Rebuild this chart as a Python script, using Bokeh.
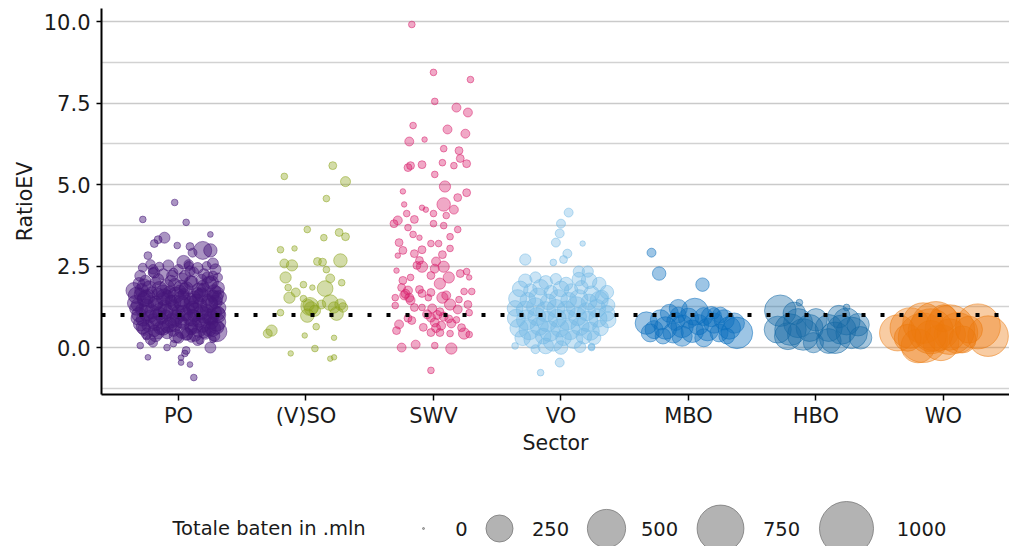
import numpy as np
from bokeh.plotting import figure
from bokeh.models import Span, FixedTicker, PrintfTickFormatter, Range1d
from bokeh.layouts import column
from bokeh.core.properties import value
from bokeh.embed import file_html
from bokeh.resources import INLINE

FONT = "DejaVu Sans"
FS = "19.5px"
FS_TICK = "21px"
FS_AXIS = "20.5px"

sectors = ["PO", "(V)SO", "SWV", "VO", "MBO", "HBO", "WO"]
colors = ["#46167A", "#8BA31A", "#D81B6A", "#74B9E6", "#0A6EBD", "#156AA6", "#EC7A0C"]
fill_alphas = [0.46, 0.38, 0.38, 0.38, 0.40, 0.38, 0.38]

y_ticks = [0.0, 2.5, 5.0, 7.5, 10.0]
y_minor = [-1.25, 1.25, 3.75, 6.25, 8.75]
reference_ratio = 1.0

legend_values = [0, 250, 500, 750, 1000]
legend_title = "Totale baten in .mln"

# ---------------- PO ----------------
po_jitter = [
    -0.03, -0.28, 0.06, 0.25, -0.11, -0.16, -0.19, -0.01, 0.19, 0.25,
    0.09, 0.11, -0.24, 0.27, 0.04, -0.35,
    -0.24, 0.02, 0.02, 0.09, 0.12, 0.05, -0.09, -0.30, 0.25, 0.27,
    0.17, -0.04, 0.06, -0.20, 0.10, -0.25,
    -0.28, -0.22, -0.15, -0.08, 0.00, 0.08, 0.15, 0.22, 0.29, -0.30,
    -0.20, -0.12, -0.04, 0.05, 0.12, 0.20, 0.27, -0.26, -0.16, -0.06,
    0.03, 0.10, 0.18, 0.26, 0.31,
    -0.31, -0.23, -0.18, -0.09, -0.03, 0.05, 0.10, 0.19, 0.24, 0.31,
    -0.29, -0.21, -0.15, -0.07, 0.01, 0.06, 0.15, 0.20, 0.28, -0.33,
    -0.30, -0.24, -0.16, -0.08, -0.02, 0.04, 0.12, 0.18, 0.27, 0.32,
    -0.27, -0.22, -0.12, -0.06, 0.02, 0.09, 0.14, 0.23, 0.29, -0.34,
    -0.32, -0.25, -0.17, -0.11, -0.04, 0.03, 0.11, 0.17, 0.26, 0.32,
    -0.29, -0.21, -0.14, -0.06, 0.00, 0.08, 0.13, 0.22, 0.28, -0.33,
    -0.31, -0.22, -0.15, -0.10, -0.01, 0.06, 0.12, 0.20, 0.25, 0.31,
    -0.28, -0.20, -0.13, -0.05, 0.02, 0.09, 0.16, 0.21, 0.30, -0.32,
    -0.30, -0.24, -0.18, -0.09, -0.03, 0.04, 0.10, 0.19, 0.26, 0.30,
    -0.27, -0.19, -0.12, -0.04, 0.03, 0.10, 0.16, 0.24, 0.30,
    -0.25, -0.18, -0.09, -0.02, 0.07, 0.13, 0.21, 0.28,
    -0.27, -0.19, -0.12, -0.05, 0.02, 0.09, 0.16, 0.23, 0.30, -0.20,
    -0.26, -0.18, -0.11, -0.04, 0.03, 0.10, 0.17, 0.24, 0.29, 0.08,
    -0.25, -0.17, -0.10, -0.03, 0.04, 0.11, 0.18, 0.25, 0.31, -0.14,
    -0.28, -0.16, -0.07, 0.06, 0.13, 0.20, 0.27, 0.00, -0.22, 0.15,
]
po_ratio = [
    4.45, 3.93, 3.84, 3.47, 3.37, 3.31, 3.19, 3.13, 2.98, 2.98,
    3.10, 2.91, 2.82, 2.58, 2.62, 1.75,
    -0.30, -0.31, -0.46, -0.52, -0.92, -0.18, 0.00, 0.06, 0.00, 0.25,
    0.22, 0.12, -0.09, 0.15, 0.30, 0.35,
    2.45, 2.55, 2.48, 2.52, 2.40, 2.50, 2.44, 2.50, 2.40, 2.20,
    2.30, 2.25, 2.30, 2.20, 2.32, 2.25, 2.20, 2.05, 2.10, 2.05,
    2.12, 2.02, 2.08, 2.00, 2.15,
    1.97, 1.84, 2.00, 1.86, 1.93, 1.81, 1.99, 1.88, 1.95, 1.83,
    1.76, 1.69, 1.79, 1.70, 1.74, 1.80, 1.67, 1.77, 1.72, 1.60,
    1.63, 1.56, 1.65, 1.55, 1.61, 1.64, 1.54, 1.62, 1.58, 1.53,
    1.47, 1.41, 1.49, 1.44, 1.39, 1.48, 1.42, 1.46, 1.40, 1.36,
    1.31, 1.27, 1.34, 1.25, 1.30, 1.33, 1.24, 1.29, 1.35, 1.22,
    1.16, 1.10, 1.19, 1.13, 1.09, 1.18, 1.12, 1.15, 1.08, 1.20,
    1.01, 0.96, 1.04, 0.98, 0.94, 1.03, 0.97, 1.00, 0.93, 1.05,
    0.86, 0.81, 0.89, 0.83, 0.79, 0.88, 0.82, 0.85, 0.78, 0.90,
    0.72, 0.67, 0.74, 0.65, 0.70, 0.73, 0.66, 0.69, 0.75, 0.63,
    0.57, 0.51, 0.59, 0.53, 0.50, 0.58, 0.52, 0.56, 0.49,
    0.43, 0.37, 0.45, 0.35, 0.41, 0.39, 0.44, 0.36,
    1.90, 2.30, 1.70, 2.20, 1.85, 2.35, 1.75, 2.15, 1.65, 2.40,
    1.52, 1.35, 1.55, 1.38, 1.50, 1.36, 1.56, 1.33, 1.52, 2.55,
    1.05, 0.92, 1.10, 0.90, 1.06, 0.91, 1.08, 0.94, 1.00, 0.60,
    0.62, 0.45, 0.70, 0.42, 0.65, 0.48, 0.58, 0.30, 0.25, 0.22,
]
po_baten = [
    14, 14, 14, 10, 40, 20, 20, 14, 110, 60,
    20, 26, 20, 40, 61, 85,
    10, 10, 10, 10, 14, 14, 14, 14, 40, 14,
    20, 14, 20, 26, 26, 20,
    26, 30, 26, 40, 30, 26, 40, 26, 40, 40,
    30, 40, 26, 40, 30, 40, 30, 40, 40, 40,
    40, 40, 40, 61, 26,
    45, 60, 38, 70, 52, 40, 65, 48, 75, 55,
    60, 42, 80, 50, 45, 68, 40, 58, 62, 90,
    50, 72, 44, 60, 85, 40, 55, 66, 48, 70,
    64, 48, 58, 42, 75, 52, 68, 45, 60, 80,
    55, 70, 46, 62, 40, 78, 50, 64, 52, 58,
    48, 66, 54, 72, 60, 44, 85, 50, 70, 62,
    70, 52, 60, 45, 66, 58, 48, 90, 55, 64,
    58, 75, 42, 68, 50, 62, 56, 46, 110, 60,
    62, 48, 70, 55, 64, 42, 60, 72, 50, 68,
    55, 44, 62, 50, 70, 48, 58, 66, 140,
    40, 52, 46, 60, 44, 56, 50, 42,
    60, 40, 70, 40, 65, 35, 75, 45, 70, 30,
    80, 70, 90, 75, 85, 70, 80, 95, 70, 30,
    80, 90, 75, 85, 80, 95, 70, 90, 80, 60,
    60, 50, 70, 55, 65, 50, 80, 40, 35, 35,
]

# ---------------- (V)SO ----------------
vso_jitter = [
    0.21, -0.17, 0.31, 0.16, 0.01, 0.26, 0.31, 0.14, -0.20, -0.09,
    -0.17, -0.11, 0.09, 0.13, 0.27, 0.16, -0.16, 0.19, 0.28, -0.14,
    -0.02, 0.05, -0.08, 0.15, -0.13, -0.02, 0.19, 0.03, 0.27, 0.12,
    0.22, 0.29, -0.20, 0.07, 0.24, 0.01, -0.27, -0.30, 0.08, -0.01,
    0.22, -0.12, 0.07, 0.19, 0.22, 0.04, 0.02,
]
vso_ratio = [
    5.58, 5.25, 5.09, 4.57, 3.62, 3.53, 3.40, 3.37, 3.00, 3.04,
    2.58, 2.52, 2.64, 2.62, 2.67, 2.39, 2.15, 2.12, 1.99, 1.84,
    1.93, 1.84, 1.69, 1.81, 1.53, 1.50, 1.38, 1.26, 1.32, 1.32,
    1.23, 1.23, 1.07, 1.13, 1.04, 0.98, 0.52, 0.43, 0.64, 0.37,
    0.30, -0.18, -0.03, -0.34, -0.30, 1.20, 1.30,
]
vso_baten = [
    20, 14, 33, 14, 14, 20, 20, 14, 14, 9,
    26, 42, 20, 20, 61, 14, 42, 26, 14, 14,
    14, 9, 26, 83, 42, 14, 83, 110, 42, 26,
    42, 30, 14, 42, 61, 61, 42, 26, 14, 9,
    9, 9, 14, 9, 9, 61, 42,
]

# ---------------- SWV ----------------
swv_jitter = [
    -0.17, 0.00, 0.29, 0.01, 0.18, 0.27, -0.16, 0.11, -0.07, -0.19,
    0.25, 0.08, 0.20, 0.21, 0.07, 0.16, 0.26, -0.09, -0.18, -0.20,
    0.01, 0.09, -0.24, 0.26, 0.19, 0.08, 0.16, -0.09, -0.06, -0.23,
    -0.21, 0.00, 0.10, -0.28, -0.15, -0.31, 0.00, 0.08, -0.20, 0.19,
    -0.16, -0.11, 0.13, -0.02, 0.04, -0.27, -0.24, 0.13, -0.09, -0.15,
    -0.28, 0.07, -0.11, 0.02, -0.13, -0.09, 0.08, 0.01, -0.29, 0.21,
    0.26, 0.28, -0.02, 0.12, -0.18, -0.24, 0.05, -0.25, -0.11, -0.20,
    -0.02, -0.23, -0.19, -0.09, 0.24, 0.30, 0.07, -0.04, -0.30, 0.13,
    0.20, 0.27, -0.30, -0.15, -0.01, -0.09, 0.19, 0.28, 0.05, -0.17,
    -0.02, 0.01, 0.06, 0.14, -0.27, -0.29, 0.22, -0.02, 0.05, 0.13,
    0.24, 0.28, -0.25, -0.14, 0.01, 0.14, -0.02, -0.22, -0.18, 0.03,
    0.08, 0.12, -0.05, 0.02, -0.20, 0.10, -0.08, 0.18,
]
swv_ratio = [
    9.91, 8.44, 8.22, 7.55, 7.36, 7.21, 6.81, 6.69, 6.38, 6.32,
    6.56, 6.10, 6.04, 5.80, 5.67, 5.58, 5.64, 5.61, 5.58, 5.52,
    5.31, 4.94, 4.79, 4.75, 4.60, 4.39, 4.23, 4.29, 4.23, 4.39,
    4.11, 4.11, 4.05, 3.90, 3.93, 3.80, 3.80, 3.74, 3.68, 3.62,
    3.47, 3.37, 3.40, 3.19, 3.19, 3.22, 2.98, 3.04, 3.00, 2.88,
    2.82, 2.85, 2.67, 2.64, 2.52, 2.48, 2.48, 2.42, 2.36, 2.27,
    2.33, 2.15, 2.21, 2.15, 2.15, 2.06, 1.96, 1.84, 1.78, 1.75,
    1.69, 1.60, 1.53, 1.66, 1.72, 1.72, 1.53, 1.53, 1.53, 1.32,
    1.47, 1.32, 1.29, 1.23, 1.20, 1.23, 1.17, 1.07, 1.10, 0.83,
    0.92, 0.77, 0.67, 0.74, 0.71, 0.52, 0.61, 0.46, 0.46, 0.43,
    0.43, 0.40, 0.00, 0.09, 0.06, -0.03, -0.70, 1.65, 1.45, 1.00,
    0.95, 0.88, 1.02, 0.60, 0.90, 1.60, 0.62, 0.85,
]
swv_baten = [
    14, 14, 14, 14, 26, 26, 14, 26, 9, 26,
    26, 14, 20, 20, 14, 14, 20, 20, 20, 20,
    14, 42, 9, 20, 20, 61, 26, 9, 9, 9,
    14, 14, 14, 26, 20, 20, 14, 14, 14, 14,
    14, 9, 14, 14, 14, 20, 20, 14, 20, 20,
    9, 20, 20, 26, 20, 42, 42, 26, 9, 20,
    14, 9, 20, 42, 14, 20, 42, 20, 20, 26,
    20, 26, 26, 20, 14, 14, 42, 14, 14, 42,
    14, 20, 14, 20, 26, 14, 26, 14, 20, 20,
    26, 26, 26, 26, 26, 20, 20, 20, 20, 14,
    42, 14, 26, 26, 14, 42, 14, 26, 26, 26,
    26, 20, 26, 26, 20, 26, 20, 14,
]

# ---------------- VO ----------------
vo_jitter = [
    -0.28, -0.20, -0.12, -0.04, 0.04, 0.14, 0.22, 0.30, 0.36,
    -0.32, -0.24, -0.16, -0.08, 0.00, 0.08, 0.16, 0.24, 0.32,
    -0.34, -0.26, -0.18, -0.10, -0.02, 0.06, 0.14, 0.22, 0.30, 0.37,
    -0.36, -0.28, -0.20, -0.12, -0.04, 0.04, 0.12, 0.20, 0.28, 0.36,
    -0.35, -0.27, -0.19, -0.11, -0.03, 0.05, 0.13, 0.21, 0.29, 0.37,
    -0.33, -0.25, -0.17, -0.09, -0.01, 0.07, 0.15, 0.23, 0.31,
    -0.30, -0.22, -0.14, -0.06, 0.02, 0.10, 0.18, 0.26,
    -0.12, 0.00, -0.20, 0.15, -0.36, 0.24,
    0.06, 0.00, -0.01, -0.04, 0.05, 0.02, 0.17, -0.28, -0.06, 0.14,
    0.21, -0.16, -0.01, 0.24,
]
vo_ratio = [
    2.05, 2.15, 2.00, 2.10, 1.95, 2.10, 2.05, 1.95, 1.70,
    1.80, 1.75, 1.85, 1.70, 1.80, 1.75, 1.85, 1.65, 1.55,
    1.50, 1.45, 1.55, 1.40, 1.50, 1.45, 1.50, 1.40, 1.45, 1.30,
    1.20, 1.15, 1.25, 1.10, 1.20, 1.15, 1.25, 1.10, 1.20, 1.05,
    0.90, 0.85, 0.95, 0.80, 0.90, 0.85, 0.95, 0.80, 0.90, 0.85,
    0.60, 0.55, 0.65, 0.50, 0.60, 0.55, 0.65, 0.50, 0.60,
    0.30, 0.25, 0.35, 0.20, 0.30, 0.25, 0.35, 0.30,
    0.05, 0.00, -0.05, 0.02, 0.05, 0.03,
    4.14, 3.80, 3.50, 3.22, 2.88, 2.70, 3.19, 2.70, 2.61, 2.33,
    2.33, -0.77, -0.46, 0.00,
]
vo_baten = [
    61, 42, 61, 42, 61, 61, 83, 61, 61,
    83, 61, 83, 61, 83, 61, 61, 83, 61,
    110, 83, 110, 83, 110, 83, 110, 83, 110, 61,
    83, 110, 110, 139, 110, 110, 139, 110, 110, 83,
    110, 139, 110, 139, 110, 139, 110, 139, 110, 83,
    110, 139, 110, 139, 110, 139, 110, 110, 83,
    83, 110, 83, 139, 83, 110, 83, 61,
    83, 61, 26, 42, 14, 14,
    26, 26, 26, 26, 26, 20, 9, 42, 14, 42,
    42, 14, 26, 14,
]

# ---------------- MBO ----------------
mbo_jitter = [
    -0.33, -0.27, -0.22, -0.18, -0.12, -0.10, -0.05, 0.00, 0.03, 0.08,
    0.12, 0.15, 0.20, 0.24, 0.28, 0.32, 0.36, 0.38, -0.15, 0.05,
    0.25, -0.30, -0.05, 0.12, -0.20, 0.30, 0.18, -0.08, -0.08, -0.29,
    -0.23, 0.11, 0.20,
]
mbo_ratio = [
    0.75, 0.55, 0.85, 0.60, 0.45, 0.80, 0.65, 0.90, 0.50, 0.70,
    0.95, 0.55, 0.75, 0.45, 0.85, 0.60, 0.75, 0.45, 1.05, 1.10,
    1.00, 0.45, 0.35, 0.30, 0.35, 0.35, 0.95, 1.00, 1.20, 2.91,
    2.27, 1.93, 1.05,
]
mbo_baten = [
    172, 110, 139, 172, 139, 110, 172, 139, 172, 139,
    110, 172, 139, 110, 139, 172, 139, 339, 110, 249,
    83, 110, 139, 110, 83, 83, 139, 83, 110, 26,
    61, 61, 42,
]

# ---------------- HBO ----------------
hbo_jitter = [
    -0.28, -0.20, -0.14, -0.22, -0.10, -0.05, 0.00, -0.30, -0.17, 0.10,
    0.15, 0.20, 0.24, 0.28, 0.33, 0.18, 0.10, -0.02, 0.35, -0.13,
    0.24,
]
hbo_ratio = [
    1.13, 0.55, 0.75, 0.35, 0.40, 0.60, 0.85, 0.55, 1.05, 0.60,
    0.30, 0.55, 0.80, 0.45, 0.70, 0.95, 0.20, 0.15, 0.30, 1.38,
    1.23,
]
hbo_baten = [
    339, 339, 290, 249, 339, 249, 172, 249, 172, 249,
    339, 290, 249, 339, 172, 172, 210, 139, 172, 14,
    14,
]

# ---------------- WO ----------------
wo_jitter = [
    -0.36, -0.26, -0.16, -0.16, -0.06, -0.02, -0.20, 0.05, 0.11, 0.20,
    0.27, 0.35, 0.00, -0.10, 0.15, -0.28, 0.05, -0.10,
]
wo_ratio = [
    0.45, 0.60, 0.30, 0.75, 0.65, 0.15, 0.05, 0.40, 0.45, 0.55,
    0.65, 0.35, 0.90, 0.35, 0.25, 0.30, 0.55, 0.50,
]
wo_baten = [
    443, 562, 840, 562, 840, 443, 390, 339, 562, 249,
    694, 562, 249, 339, 249, 249, 840, 694,
]

jitters = [po_jitter, vso_jitter, swv_jitter, vo_jitter, mbo_jitter, hbo_jitter, wo_jitter]
ratios = [po_ratio, vso_ratio, swv_ratio, vo_ratio, mbo_ratio, hbo_ratio, wo_ratio]
batens = [po_baten, vso_baten, swv_baten, vo_baten, mbo_baten, hbo_baten, wo_baten]


def size_scale(v):
    # area-proportional size scale (diameter in px)
    return 2.0 * np.sqrt(1.0 + 0.73 * np.asarray(v, dtype=float))


p = figure(width=1009, height=463,
           x_range=Range1d(0.396, 7.518), y_range=Range1d(-1.44, 10.4),
           output_backend="svg", toolbar_location=None,
           min_border_left=101, min_border_right=0, min_border_top=8,
           min_border_bottom=69)
p.outline_line_color = None
p.background_fill_color = "white"

for i, (jit, rat, bat, col, fa) in enumerate(zip(jitters, ratios, batens, colors, fill_alphas)):
    assert len(jit) == len(rat) == len(bat), (sectors[i], len(jit), len(rat), len(bat))
    xs = [i + 1 + j for j in jit]
    p.scatter(x=xs, y=rat, size=size_scale(bat), marker="circle",
              fill_color=col, fill_alpha=fa, line_color=col, line_alpha=0.5,
              line_width=1)

p.add_layout(Span(location=reference_ratio, dimension="width", line_color="black",
                  line_width=4, line_dash="4 15"))

yt = FixedTicker(ticks=y_ticks, minor_ticks=y_minor)
p.yaxis.ticker = yt
p.ygrid.ticker = yt
p.yaxis.formatter = PrintfTickFormatter(format="%.1f")
p.ygrid.grid_line_color = "#CACACA"
p.ygrid.grid_line_width = 1.5
p.ygrid.minor_grid_line_color = "#D2D2D2"
p.ygrid.minor_grid_line_width = 1.5
p.xgrid.grid_line_color = None

p.xaxis.ticker = FixedTicker(ticks=list(range(1, len(sectors) + 1)))
p.xaxis.major_label_overrides = {i + 1: s for i, s in enumerate(sectors)}
p.xaxis.axis_label = "Sector"
p.yaxis.axis_label = "RatioEV"

for ax in (p.xaxis[0], p.yaxis[0]):
    ax.axis_line_color = "black"
    ax.axis_line_width = 2
    ax.major_tick_line_color = "black"
    ax.major_tick_line_width = 1.5
    ax.major_tick_in = 0
    ax.minor_tick_line_color = None
    ax.major_label_text_font = FONT
    ax.major_label_text_font_size = FS_TICK
    ax.major_label_text_color = "#1a1a1a"
    ax.axis_label_text_font = FONT
    ax.axis_label_text_font_size = FS_AXIS
    ax.axis_label_text_font_style = "normal"
    ax.axis_label_text_color = "#1a1a1a"

p.xaxis.major_tick_out = 6
p.xaxis.major_label_standoff = 3
p.xaxis.axis_label_standoff = 0
p.yaxis.major_tick_out = 5
p.yaxis.major_label_standoff = 6
p.yaxis.axis_label_standoff = 4

# ---------------- size legend (page-pixel coordinates) ----------------
lg = figure(width=1009, height=83, x_range=Range1d(101, 1009), y_range=Range1d(546, 463),
            output_backend="svg", toolbar_location=None,
            min_border_left=101, min_border_right=0, min_border_top=0, min_border_bottom=0)
lg.axis.visible = False
lg.grid.grid_line_color = None
lg.outline_line_color = None

legend_y = 528
circle_x = [423, 499, 606, 720, 846]
label_x = [461, 550, 659, 781, 921]
lg.scatter(x=circle_x, y=[legend_y] * 5, size=size_scale(legend_values), marker="circle",
           fill_color="#8A8A8A", fill_alpha=0.65, line_color="#6E6E6E", line_alpha=0.7,
           line_width=1)
lg.text(x=label_x, y=[legend_y] * 5, text=[str(v) for v in legend_values],
        text_align="center", text_baseline="middle", text_font=value(FONT),
        text_font_size=FS, text_color="#1a1a1a")
lg.text(x=[172], y=[legend_y], text=[legend_title], text_align="left",
        text_baseline="middle", text_font=value(FONT), text_font_size=FS,
        text_color="#1a1a1a")

layout = column(p, lg, spacing=0)
open("out.html", "w").write(file_html(layout, INLINE))
